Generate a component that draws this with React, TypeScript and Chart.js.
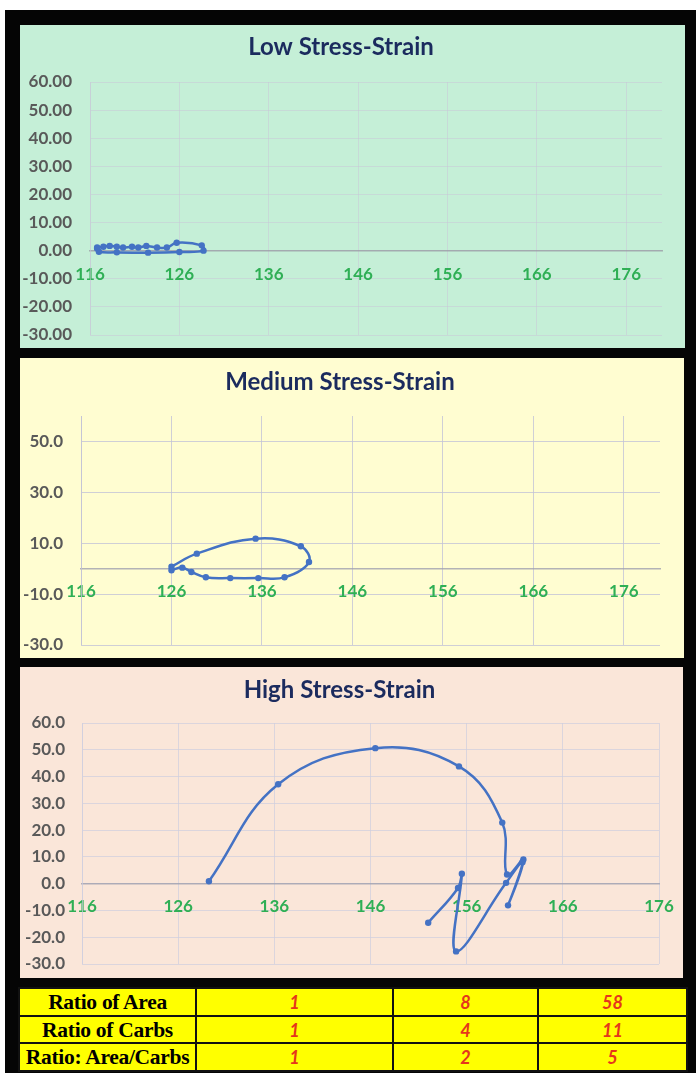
import React, { useEffect, useRef } from 'react';
import { Chart, registerables } from 'chart.js';

Chart.register(...registerables);

// ---------- data ----------
const xTicks = [116, 126, 136, 146, 156, 166, 176];

const lowYTicks = [-30, -20, -10, 0, 10, 20, 30, 40, 50, 60];
const mediumYTicks = [-30, -10, 10, 30, 50];
const highYTicks = [-30, -20, -10, 0, 10, 20, 30, 40, 50, 60];

const lowStrain = [116.8, 117.5, 118.2, 119.0, 119.7, 120.7, 121.4, 122.3, 123.5, 124.6, 125.7, 128.5, 128.7, 126.0, 122.5, 119.0, 117.0, 116.8];
const lowStress = [1.1, 1.4, 1.7, 1.4, 1.1, 1.4, 1.1, 1.7, 1.1, 1.1, 2.8, 1.9, 0.0, -0.5, -0.7, -0.6, -0.4, 0.8];

const mediumStrain = [126.0, 128.8, 135.3, 140.3, 141.2, 138.5, 135.6, 132.5, 129.8, 128.2, 127.2, 126.0];
const mediumStress = [0.8, 5.9, 11.8, 8.8, 2.6, -3.4, -3.7, -3.7, -3.4, -1.3, 0.4, -0.6];

const highStrain = [129.2, 136.4, 146.5, 155.2, 159.7, 160.2, 161.9, 160.3, 161.8, 160.1, 154.9, 155.5, 155.1, 152.0];
const highStress = [0.9, 37.1, 50.6, 43.8, 22.8, 3.4, 9.0, -8.1, 8.0, 0.3, -25.3, 3.7, -1.6, -14.6];

const tableLabels = ['Ratio of Area', 'Ratio of Carbs', 'Ratio: Area/Carbs'];
const lowRatios = [1, 1, 1];
const mediumRatios = [8, 4, 2];
const highRatios = [58, 11, 5];

// ---------- styles ----------
const BLUE = '#4472c4';
const NAVY = '#1b2b5e';
const GREEN_TXT = '#2faf55';
const GRAY_TXT = '#595959';
const TICK_SIZE = 17;

type Panel = {
  title: string;
  bg: string;
  grid: string;
  axis: string;
  left: number;
  top: number;
  width: number;
  height: number;
  area: { left: number; top: number; right: number; bottom: number };
  titleCenter: number;
  xs: number[];
  ys: number[];
  yTicks: number[];
  yMin: number;
  yMax: number;
  xMax: number;
  decimals: number;
  yPad: number;
  xPad: number;
};

const panels: Panel[] = [
  {
    title: 'Low Stress-Strain', bg: '#c5efd7', grid: 'rgba(200,200,215,0.55)', axis: 'rgba(150,150,160,0.7)',
    left: 20, top: 25, width: 665, height: 323,
    area: { left: 70, top: 57, right: 642, bottom: 310 }, titleCenter: 22,
    xs: lowStrain, ys: lowStress, yTicks: lowYTicks, yMin: -30, yMax: 60, xMax: 180, decimals: 2, yPad: 18, xPad: 13.5,
  },
  {
    title: 'Medium Stress-Strain', bg: '#fffdd1', grid: 'rgba(195,195,215,0.8)', axis: 'rgba(160,160,175,0.8)',
    left: 20, top: 358, width: 664, height: 300,
    area: { left: 61, top: 58, right: 640, bottom: 287 }, titleCenter: 24,
    xs: mediumStrain, ys: mediumStress, yTicks: mediumYTicks, yMin: -30, yMax: 60, xMax: 180, decimals: 1, yPad: 18, xPad: 12.5,
  },
  {
    title: 'High Stress-Strain', bg: '#fae6d9', grid: 'rgba(205,205,222,0.7)', axis: 'rgba(160,160,175,0.8)',
    left: 20, top: 667, width: 663, height: 311,
    area: { left: 62, top: 56, right: 639, bottom: 297 }, titleCenter: 23,
    xs: highStrain, ys: highStress, yTicks: highYTicks, yMin: -30, yMax: 60, xMax: 176, decimals: 1, yPad: 17, xPad: 13,
  },
];

function StressChart({ p }: { p: Panel }) {
  const ref = useRef<HTMLCanvasElement | null>(null);
  useEffect(() => {
    if (!ref.current) return;
    const titleSize = 24;
    const titleH = titleSize * 1.2;
    const padTop = p.titleCenter - titleH / 2;
    const chart = new Chart(ref.current, {
      type: 'scatter',
      data: {
        datasets: [
          {
            data: p.xs.map((x, i) => ({ x, y: p.ys[i] })),
            showLine: true,
            borderColor: BLUE,
            backgroundColor: BLUE,
            borderWidth: 2.5,
            pointRadius: 3.2,
            pointBorderWidth: 0,
            tension: 0.4,
          },
        ],
      },
      options: {
        responsive: false,
        animation: false,
        layout: {
          padding: { left: 0, top: 0, right: p.width - p.area.right, bottom: p.height - p.area.bottom },
        },
        plugins: {
          legend: { display: false },
          tooltip: { enabled: false },
          title: {
            display: true,
            text: p.title,
            color: NAVY,
            font: { family: 'Lato', size: titleSize, weight: 'bold', lineHeight: 1.2 },
            padding: { top: padTop, bottom: p.area.top - padTop - titleH },
          },
        },
        scales: {
          x: {
            type: 'linear',
            min: 116,
            max: p.xMax,
            position: { y: 0 } as any,
            afterBuildTicks: (s: any) => {
              s.ticks = xTicks.map((v) => ({ value: v }));
            },
            afterFit: (s: any) => {
              s.paddingLeft = 0;
              s.paddingRight = 0;
            },
            grid: { color: p.grid, drawTicks: false, lineWidth: 1 },
            border: { color: p.axis, width: 1.5 },
            ticks: {
              color: GREEN_TXT,
              font: { family: 'Lato', size: TICK_SIZE, weight: 'bold', lineHeight: 1.2 },
              padding: p.xPad,
              maxRotation: 0,
              autoSkip: false,
            },
          },
          y: {
            type: 'linear',
            min: p.yMin,
            max: p.yMax,
            afterBuildTicks: (s: any) => {
              s.ticks = p.yTicks.map((v) => ({ value: v }));
            },
            afterFit: (s: any) => {
              s.width = p.area.left;
              s.paddingTop = 0;
              s.paddingBottom = 0;
            },
            grid: { color: p.grid, drawTicks: false, lineWidth: 1 },
            border: { color: p.grid, width: 1 },
            ticks: {
              color: GRAY_TXT,
              font: { family: 'Lato', size: TICK_SIZE, weight: 'bold', lineHeight: 1.2 },
              padding: p.yPad,
              autoSkip: false,
              callback: (v: any) => Number(v).toFixed(p.decimals),
            },
          },
        },
      } as any,
    });
    return () => chart.destroy();
  }, [p]);

  return (
    <div
      style={{
        position: 'absolute',
        left: p.left,
        top: p.top,
        width: p.width,
        height: p.height,
        background: p.bg,
      }}
    >
      <canvas ref={ref} width={p.width} height={p.height} style={{ display: 'block' }} />
    </div>
  );
}

const colWidths = [177, 197, 145, 149];

export default function App() {
  const cellBorder = '2px solid #111';
  return (
    <div style={{ position: 'fixed', left: 0, top: 0, width: 696, height: 1073, background: '#fff', overflow: 'hidden' }}>
      <div style={{ position: 'absolute', left: 5, top: 10, width: 691, height: 1063, background: '#050505' }} />
      {panels.map((p) => (
        <StressChart key={p.title} p={p} />
      ))}
      <table
        style={{
          position: 'absolute',
          left: 18,
          top: 987,
          width: 668,
          height: 83,
          borderCollapse: 'collapse',
          tableLayout: 'fixed',
          background: '#ffff00',
        }}
      >
        <colgroup>
          {colWidths.map((w, i) => (
            <col key={i} style={{ width: w }} />
          ))}
        </colgroup>
        <tbody>
          {tableLabels.map((label, i) => (
            <tr key={label} style={{ height: 27.7 }}>
              <td
                style={{
                  border: cellBorder,
                  padding: 0,
                  textAlign: 'center',
                  fontFamily: '"Liberation Serif", serif',
                  fontWeight: 'bold',
                  fontSize: 21.5,
                  color: '#000',
                  whiteSpace: 'nowrap',
                  lineHeight: '24px',
                  letterSpacing: -0.3,
                }}
              >
                {label}
              </td>
              {[lowRatios[i], mediumRatios[i], highRatios[i]].map((v, j) => (
                <td
                  key={j}
                  style={{
                    border: cellBorder,
                    padding: 0,
                    textAlign: 'center',
                    fontFamily: 'Lato, sans-serif',
                    fontWeight: 'bold',
                    fontStyle: 'italic',
                    fontSize: 18,
                    color: '#e5361c',
                    lineHeight: '24px',
                  }}
                >
                  {v}
                </td>
              ))}
            </tr>
          ))}
        </tbody>
      </table>
    </div>
  );
}
